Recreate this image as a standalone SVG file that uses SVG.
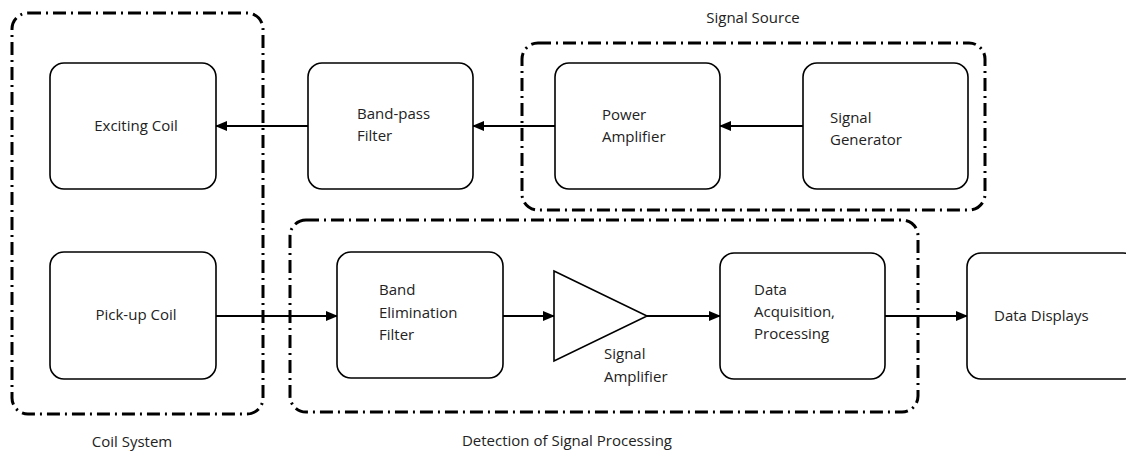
<svg xmlns="http://www.w3.org/2000/svg" width="1126" height="453" viewBox="0 0 1126 453">
<style>
.grp{fill:none;stroke:#000;stroke-width:3;stroke-dasharray:13 5 2 5}
.box{fill:#fff;stroke:#000;stroke-width:1.6}
.t{font-family:"Open Sans","Liberation Sans",sans-serif;font-size:15px;fill:#222}
.c{text-anchor:middle}
.ln{stroke:#000;stroke-width:2.2;fill:none}
</style>
<defs>
<marker id="ah" markerWidth="12" markerHeight="10" refX="11" refY="5" orient="auto" markerUnits="userSpaceOnUse">
<path d="M0,0 L12,5 L0,10 Z" fill="#000"/>
</marker>
</defs>
<rect width="1126" height="453" fill="#fff"/>
<g id="group-coil-system">
<rect class="grp" x="12" y="13" width="251" height="401" rx="16"/>
<text class="t c" x="132" y="447">Coil System</text>
</g>
<g id="group-signal-source">
<rect class="grp" x="522" y="43" width="463" height="167" rx="16"/>
<text class="t c" x="753" y="23">Signal Source</text>
</g>
<g id="group-detection">
<rect class="grp" x="290" y="220" width="628" height="192" rx="16"/>
<text class="t c" x="567" y="446">Detection of Signal Processing</text>
</g>
<g id="connectors">
<line class="ln" x1="803" y1="126" x2="720" y2="126" marker-end="url(#ah)"/>
<line class="ln" x1="555" y1="126" x2="473" y2="126" marker-end="url(#ah)"/>
<line class="ln" x1="308" y1="126" x2="216" y2="126" marker-end="url(#ah)"/>
<line class="ln" x1="216" y1="316" x2="337" y2="316" marker-end="url(#ah)"/>
<line class="ln" x1="503" y1="316" x2="554" y2="316" marker-end="url(#ah)"/>
<line class="ln" x1="647" y1="316" x2="720" y2="316" marker-end="url(#ah)"/>
<line class="ln" x1="885" y1="316" x2="967" y2="316" marker-end="url(#ah)"/>
</g>
<g id="exciting-coil">
<rect class="box" x="50" y="63" width="166" height="126" rx="14"/>
<text class="t c" x="136" y="131">Exciting Coil</text>
</g>
<g id="pickup-coil">
<rect class="box" x="50" y="252" width="166" height="127" rx="14"/>
<text class="t c" x="136" y="320">Pick-up Coil</text>
</g>
<g id="band-pass-filter">
<rect class="box" x="308" y="63" width="165" height="126" rx="14"/>
<text class="t" x="357" y="119">Band-pass</text>
<text class="t" x="357" y="141">Filter</text>
</g>
<g id="power-amplifier">
<rect class="box" x="555" y="63" width="165" height="126" rx="14"/>
<text class="t" x="602" y="120">Power</text>
<text class="t" x="602" y="142">Amplifier</text>
</g>
<g id="signal-generator">
<rect class="box" x="803" y="63" width="165" height="126" rx="14"/>
<text class="t" x="830" y="123">Signal</text>
<text class="t" x="830" y="145">Generator</text>
</g>
<g id="band-elimination-filter">
<rect class="box" x="337" y="252" width="166" height="126" rx="14"/>
<text class="t" x="379" y="295">Band</text>
<text class="t" x="379" y="318">Elimination</text>
<text class="t" x="379" y="340">Filter</text>
</g>
<g id="signal-amplifier">
<path class="box" d="M554,271 L647,316 L554,361 Z"/>
<text class="t" x="604" y="359">Signal</text>
<text class="t" x="604" y="382">Amplifier</text>
</g>
<g id="data-acquisition">
<rect class="box" x="720" y="253" width="165" height="126" rx="14"/>
<text class="t" x="754" y="295">Data</text>
<text class="t" x="754" y="317">Acquisition,</text>
<text class="t" x="754" y="339">Processing</text>
</g>
<g id="data-displays">
<rect class="box" x="967" y="253" width="170" height="126" rx="14"/>
<text class="t" x="994" y="321">Data Displays</text>
</g>
</svg>
